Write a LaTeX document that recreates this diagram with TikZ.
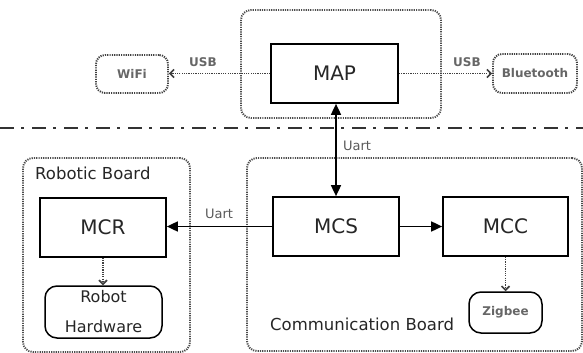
\documentclass[tikz,border=0pt]{standalone}
\usepackage{fontspec}
\setmainfont{DejaVu Sans}
\usetikzlibrary{arrows.meta}
\begin{document}
\begin{tikzpicture}[x=1pt,y=-1pt,
  dotline/.style={line width=1.9pt, dash pattern=on 1.2pt off 1.1pt},
  solidbox/.style={draw=black, line width=1.7pt, fill=white, inner sep=0pt, text=black!85, font=\fontsize{20}{24}\selectfont},
  grpbox/.style={draw=black!70, dotline, rounded corners=10pt, inner sep=0pt},
  devbox/.style={draw=black!75, dotline, rounded corners=9pt, inner sep=0pt, text=black!60, font=\bfseries\fontsize{12}{15}\selectfont},
  hwbox/.style={draw=black, line width=1.5pt, rounded corners=12pt, inner sep=0pt, text=black!85},
  boardlbl/.style={anchor=west, inner sep=0pt, text=black!85, font=\fontsize{16.5}{20}\selectfont},
  usblbl/.style={inner sep=0pt, text=black!60, font=\bfseries\fontsize{12}{15}\selectfont},
  uartlbl/.style={inner sep=0pt, text=black!65, font=\fontsize{13}{16}\selectfont},
  solidarrow/.style={line width=1.7pt, -{Triangle[length=11pt,width=10pt]}},
  dualarrow/.style={line width=1.7pt, {Triangle[length=11pt,width=10pt]}-{Triangle[length=11pt,width=10pt]}},
  dotarrow/.style={draw=black!75, dotline, -{Straight Barb[length=4pt,width=8pt,line width=1.6pt]}},
  sepline/.style={draw=black!80, line width=2.4pt, dash pattern=on 14pt off 7pt on 3pt off 8pt}
]
\useasboundingbox (0,0) rectangle (583,353);

% group boxes
\node[grpbox, minimum width=200pt, minimum height=108pt] (mapouter) at (341,64) {};
\node[grpbox, minimum width=167pt, minimum height=194pt] (robo) at (106.5,255) {};
\node[grpbox, minimum width=335pt, minimum height=193pt] (comm) at (414.5,254.5) {};

% main boxes
\node[solidbox, minimum width=127pt, minimum height=59pt] (map) at (334.5,73.5) {MAP};
\node[solidbox, minimum width=126pt, minimum height=59pt] (mcr) at (103,227.5) {MCR};
\node[solidbox, minimum width=126pt, minimum height=59pt] (mcs) at (336,226.5) {MCS};
\node[solidbox, minimum width=125pt, minimum height=59pt] (mcc) at (505.5,226.5) {MCC};

% devices
\node[devbox, minimum width=72pt, minimum height=38pt] (wifi) at (132,74) {WiFi};
\node[devbox, minimum width=84pt, minimum height=39pt] (bt) at (535,73.5) {Bluetooth};
\node[hwbox, minimum width=117pt, minimum height=52pt, align=center, font=\fontsize{16}{30}\selectfont] (hw) at (103.5,312) {Robot\\Hardware};
\node[hwbox, minimum width=73pt, minimum height=41pt, text=black!60, font=\bfseries\fontsize{12}{15}\selectfont] (zig) at (505.5,312.5) {Zigbee};

% board labels
\node[boardlbl] (roblbl) at (35,173) {Robotic Board};
\node[boardlbl] (commlbl) at (270,324) {Communication Board};

% separator
\coordinate (sepl) at (0,128);
\coordinate (sepr) at (583,128);
\draw[sepline] (sepl) -- (sepr);

% connectors
\draw[dotarrow] (map.west) -- (map.west -| wifi.east);
\draw[dotarrow] (map.east) -- (map.east -| bt.west);
\draw[dualarrow] (mcs.north) -- (mcs.north |- map.south);
\draw[solidarrow] (mcs.west) -- (mcs.west -| mcr.east);
\draw[solidarrow] (mcs.east) -- (mcs.east -| mcc.west);
\draw[dotarrow] (mcr.south) -- (mcr.south |- hw.north);
\draw[dotarrow] (mcc.south) -- (mcc.south |- zig.north);

% connector labels
\node[usblbl] (usbl) at (203,62) {USB};
\node[usblbl] (usbr) at (467,62) {USB};
\node[uartlbl] (uartv) at (357,146) {Uart};
\node[uartlbl] (uarth) at (219,214) {Uart};
\end{tikzpicture}
\end{document}
